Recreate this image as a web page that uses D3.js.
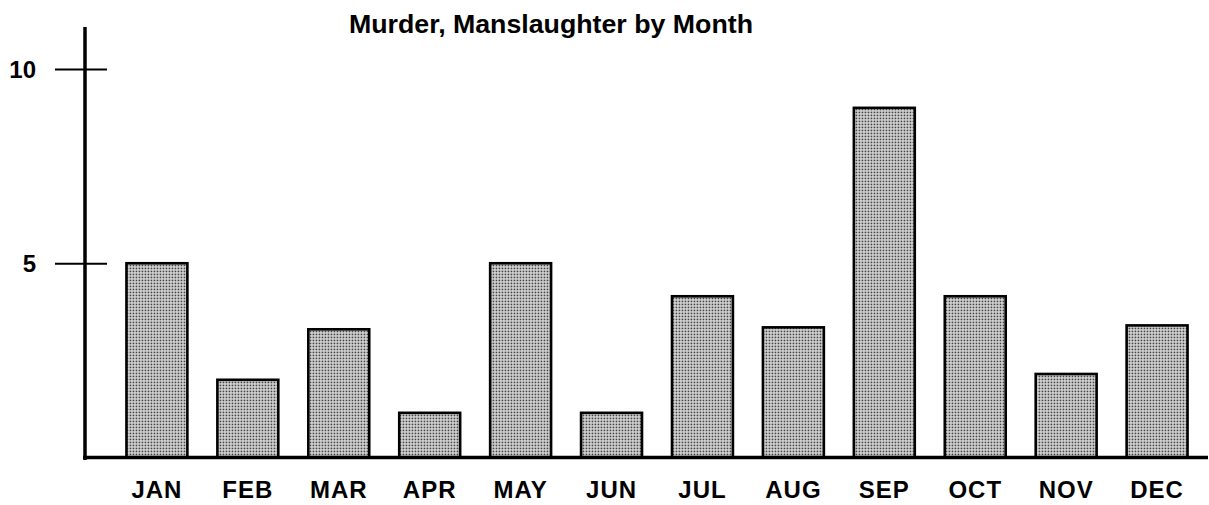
<!DOCTYPE html>
<html>
<head>
<meta charset="utf-8">
<script src="https://cdn.jsdelivr.net/npm/d3@7"></script>
<style>
  html, body { margin: 0; padding: 0; background: #fff; }
  svg { display: block; }
  text { font-family: "Liberation Sans", Arial, Helvetica, sans-serif; font-weight: bold; fill: #000; }
</style>
</head>
<body>
<svg id="chart" width="1209" height="505"></svg>
<script>
const months = ["JAN","FEB","MAR","APR","MAY","JUN","JUL","AUG","SEP","OCT","NOV","DEC"];
const counts = [5, 2, 3.3, 1.15, 5, 1.15, 4.15, 3.35, 9, 4.15, 2.15, 3.4];
const yTicks = [5, 10];
const title = "Murder, Manslaughter by Month";

const svg = d3.select("#chart");

const defs = svg.append("defs");
const pat = defs.append("pattern")
  .attr("id", "stipple")
  .attr("patternUnits", "userSpaceOnUse")
  .attr("width", 3).attr("height", 3);
pat.append("rect").attr("width", 3).attr("height", 3).attr("fill", "#dcdcdc");
pat.append("rect").attr("x", 0.6).attr("y", 0.6).attr("width", 1.7).attr("height", 1.7).attr("fill", "#444");

const x = d3.scaleBand()
  .domain(months)
  .range([111, 1203])
  .paddingInner(0.33)
  .paddingOuter(0.17);

const y = d3.scaleLinear()
  .domain([0, 10])
  .range([457.5, 69]);

// bars
svg.append("g")
  .selectAll("rect")
  .data(months)
  .join("rect")
  .attr("x", d => x(d))
  .attr("y", (d, i) => y(counts[i]))
  .attr("width", x.bandwidth())
  .attr("height", (d, i) => y(0) - y(counts[i]))
  .attr("fill", "url(#stipple)")
  .attr("stroke", "#000")
  .attr("stroke-width", 2.6);

// y axis
const yAxis = d3.axisLeft(y)
  .tickValues(yTicks)
  .tickSize(0)
  .tickPadding(0)
  .tickFormat(d3.format("d"));
const gy = svg.append("g").attr("transform", "translate(85,0)").call(yAxis);
gy.select(".domain").remove();
gy.selectAll(".tick line").remove();
gy.selectAll(".tick").append("line")
  .attr("x1", -30).attr("x2", 22)
  .attr("stroke", "#000").attr("stroke-width", 2.2);
gy.attr("font-size", null).attr("font-family", null);
gy.selectAll(".tick text")
  .attr("x", -49)
  .attr("dy", "0.36em")
  .attr("font-size", 24)
  .attr("text-anchor", "end");

svg.append("line")
  .attr("x1", 85).attr("x2", 85)
  .attr("y1", 27).attr("y2", 460)
  .attr("stroke", "#000").attr("stroke-width", 3.5);

// x axis
const xAxis = d3.axisBottom(x).tickSize(0).tickPadding(0);
const gx = svg.append("g").attr("transform", `translate(0,${y(0)})`).call(xAxis);
gx.select(".domain").remove();
gx.attr("font-size", null).attr("font-family", null);
gx.selectAll(".tick text")
  .attr("y", 40)
  .attr("dy", 0)
  .attr("font-size", 24)
  .attr("letter-spacing", 1);

svg.append("line")
  .attr("x1", 83).attr("x2", 1208)
  .attr("y1", y(0)).attr("y2", y(0))
  .attr("stroke", "#000").attr("stroke-width", 3.5);

// title
svg.append("text")
  .attr("x", 551)
  .attr("y", 33)
  .attr("text-anchor", "middle")
  .attr("font-size", 26)
  .attr("textLength", 404)
  .attr("lengthAdjust", "spacingAndGlyphs")
  .text(title);
</script>
</body>
</html>
